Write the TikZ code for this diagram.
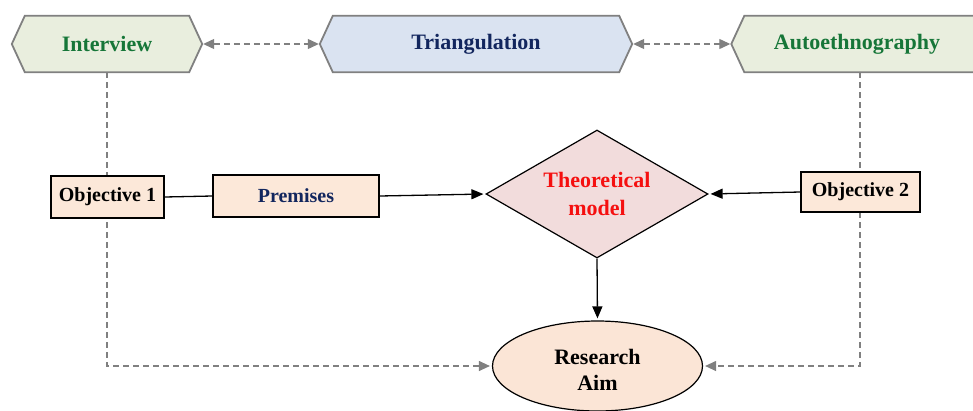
\documentclass[tikz,border=0pt]{standalone}
\usepackage{fontspec}
\setmainfont{Liberation Serif}
\usetikzlibrary{shapes.geometric,arrows.meta,backgrounds}

\definecolor{hexgreen}{RGB}{233,238,222}
\definecolor{hexblue}{RGB}{218,227,241}
\definecolor{hexedge}{RGB}{128,128,128}
\definecolor{peach}{RGB}{252,232,217}
\definecolor{rosefill}{RGB}{242,220,220}
\definecolor{aimfill}{RGB}{251,229,214}
\definecolor{txtgreen}{RGB}{22,118,56}
\definecolor{txtnavy}{RGB}{18,38,94}
\definecolor{txtred}{RGB}{245,16,16}
\definecolor{dashgray}{RGB}{128,128,128}

\begin{document}
\begin{tikzpicture}[x=1pt,y=-1pt,
  hexnode/.style={minimum height=56pt, inner sep=0pt,
    font=\fontsize{22}{26}\selectfont\bfseries},
  hexframe/.style={draw=hexedge, line width=1.8pt, line join=miter},
  objbox/.style={draw=black, line width=1.2pt, fill=peach, inner sep=0pt,
    font=\fontsize{20}{24}\selectfont\bfseries},
  link/.style={draw=black, line width=1.3pt},
  arrowlink/.style={link, shorten >=2pt, -{Triangle[length=12pt,width=10pt]}},
  dashlink/.style={draw=dashgray, line width=1.2pt, dash pattern=on 6pt off 4pt},
  dashtip/.style={shorten >=2pt, -{Triangle[length=11pt,width=10pt]}},
  dashboth/.style={shorten >=1pt, shorten <=1pt,
    {Triangle[length=11pt,width=10pt]}-{Triangle[length=11pt,width=10pt]}}
]
\useasboundingbox (0,0) rectangle (973,410);

% method hexagons (labels only; frames drawn behind)
\node[hexnode, minimum width=190pt, text=txtgreen] (iv) at (107,44) {Interview};
\node[hexnode, minimum width=312pt, text=txtnavy] (tri) at (476,44) {Triangulation};
\node[hexnode, minimum width=257pt, text=txtgreen] (ae) at (860,44) {\hspace*{-6pt}Autoethnography};

% objectives and premises
\node[objbox, minimum width=113pt, minimum height=42pt] (ob1) at (107.5,197) {Objective 1};
\node[objbox, minimum width=166pt, minimum height=42pt, text=txtnavy] (pr) at (296,196) {Premises};
\node[objbox, minimum width=119pt, minimum height=40pt] (ob2) at (860.5,192) {Objective 2};

% theoretical model
\node[diamond, aspect=1.73, draw=black, line width=1.2pt, fill=rosefill,
  inner sep=0pt, minimum width=222pt, minimum height=128pt,
  text=txtred, font=\fontsize{22}{27}\selectfont\bfseries] (tm) at (597,194)
  {\raisebox{-2pt}[\height][\depth]{\begin{tabular}{@{}c@{}}Theoretical\\[1pt]model\end{tabular}}};

% research aim
\node[ellipse, draw=black, line width=1.2pt, fill=aimfill, inner sep=0pt,
  minimum width=210pt, minimum height=90pt,
  font=\fontsize{22}{26}\selectfont\bfseries] (aim) at (597.5,366)
  {\raisebox{-6pt}[\height][\depth]{\begin{tabular}{@{}c@{}}Research\\Aim\end{tabular}}};

\begin{scope}[on background layer]
  \foreach \n/\c in {iv/hexgreen, tri/hexblue, ae/hexgreen}
    \path[hexframe, fill=\c] (\n.west) -- ([xshift=13pt]\n.north west)
      -- ([xshift=-13pt]\n.north east) -- (\n.east)
      -- ([xshift=-13pt]\n.south east) -- ([xshift=13pt]\n.south west) -- cycle;
  % dashed feeds from the methods into the research aim
  \draw[dashlink, dashtip] (iv.south) |- (aim.west);
  \draw[dashlink, dashtip] (ae.south) |- (aim.east);
\end{scope}

% triangulation links
\draw[dashlink, dashboth] (iv.east) -- (tri.west);
\draw[dashlink, dashboth] (tri.east) -- (ae.west);

% solid flow
\draw[link] (ob1.east) -- (pr.west);
\draw[arrowlink] (pr.east) -- (tm.west);
\draw[arrowlink] (ob2.west) -- (tm.east);
\draw[arrowlink] (tm.south) -- (aim.north);
\end{tikzpicture}
\end{document}
